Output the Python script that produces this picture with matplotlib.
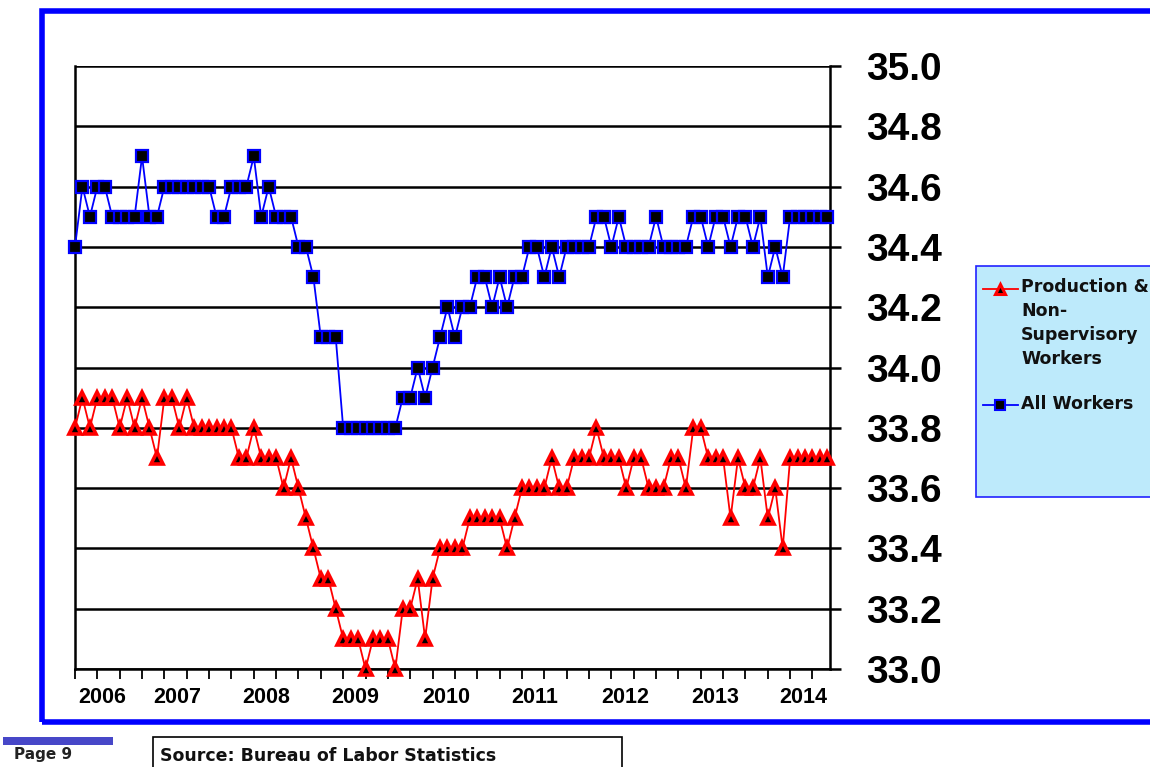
import numpy as np
import matplotlib
matplotlib.use("Agg")
import matplotlib.pyplot as plt
from matplotlib.patches import Rectangle
from matplotlib.lines import Line2D

# average weekly hours, monthly, Mar 2006 .. Aug 2014
all_workers = [34.4, 34.6, 34.5, 34.6, 34.6, 34.5, 34.5, 34.5, 34.5, 34.7,
               34.5, 34.5, 34.6, 34.6, 34.6, 34.6, 34.6, 34.6, 34.6, 34.5,
               34.5, 34.6, 34.6, 34.6, 34.7, 34.5, 34.6, 34.5, 34.5, 34.5,
               34.4, 34.4, 34.3, 34.1, 34.1, 34.1, 33.8, 33.8, 33.8, 33.8,
               33.8, 33.8, 33.8, 33.8, 33.9, 33.9, 34.0, 33.9, 34.0, 34.1,
               34.2, 34.1, 34.2, 34.2, 34.3, 34.3, 34.2, 34.3, 34.2, 34.3,
               34.3, 34.4, 34.4, 34.3, 34.4, 34.3, 34.4, 34.4, 34.4, 34.4,
               34.5, 34.5, 34.4, 34.5, 34.4, 34.4, 34.4, 34.4, 34.5, 34.4,
               34.4, 34.4, 34.4, 34.5, 34.5, 34.4, 34.5, 34.5, 34.4, 34.5,
               34.5, 34.4, 34.5, 34.3, 34.4, 34.3, 34.5, 34.5, 34.5, 34.5,
               34.5, 34.5]

production = [33.8, 33.9, 33.8, 33.9, 33.9, 33.9, 33.8, 33.9, 33.8, 33.9,
              33.8, 33.7, 33.9, 33.9, 33.8, 33.9, 33.8, 33.8, 33.8, 33.8,
              33.8, 33.8, 33.7, 33.7, 33.8, 33.7, 33.7, 33.7, 33.6, 33.7,
              33.6, 33.5, 33.4, 33.3, 33.3, 33.2, 33.1, 33.1, 33.1, 33.0,
              33.1, 33.1, 33.1, 33.0, 33.2, 33.2, 33.3, 33.1, 33.3, 33.4,
              33.4, 33.4, 33.4, 33.5, 33.5, 33.5, 33.5, 33.5, 33.4, 33.5,
              33.6, 33.6, 33.6, 33.6, 33.7, 33.6, 33.6, 33.7, 33.7, 33.7,
              33.8, 33.7, 33.7, 33.7, 33.6, 33.7, 33.7, 33.6, 33.6, 33.6,
              33.7, 33.7, 33.6, 33.8, 33.8, 33.7, 33.7, 33.7, 33.5, 33.7,
              33.6, 33.6, 33.7, 33.5, 33.6, 33.4, 33.7, 33.7, 33.7, 33.7,
              33.7, 33.7]

years = ["2006", "2007", "2008", "2009", "2010", "2011", "2012", "2013", "2014"]
# month index under each year label
year_label_pos = [3.6, 13.7, 25.6, 37.6, 49.8, 61.7, 73.9, 85.9, 97.8]

y_ticks = [33.0, 33.2, 33.4, 33.6, 33.8, 34.0, 34.2, 34.4, 34.6, 34.8, 35.0]

prod_label = "Production &\nNon-\nSupervisory\nWorkers"
all_label = "All Workers"

W, H = 1150, 767
plt.rcParams['font.family'] = ['Liberation Sans', 'DejaVu Sans']

fig = plt.figure(figsize=(W / 100, H / 100), dpi=100)
fig.patch.set_facecolor('white')


# pixel -> figure fraction
def fx(x):
    return x / W


def fy(y):
    return 1 - y / H


ax = fig.add_axes([fx(75), fy(669), fx(830) - fx(75), fy(66) - fy(669)])

x = np.arange(len(all_workers))

# the two series
ax.plot(x, production, color='red', linewidth=1.3, marker='^', markersize=9,
        markerfacecolor='black', markeredgecolor='red', markeredgewidth=2.6,
        clip_on=False, zorder=3)
ax.plot(x, all_workers, color='blue', linewidth=1.3, marker='s', markersize=8.5,
        markerfacecolor='black', markeredgecolor='blue', markeredgewidth=1.6,
        clip_on=False, zorder=4)

ax.set_xlim(0, 101.35)
ax.set_ylim(33.0, 35.0)

# y axis on the right with big bold labels
ax.yaxis.tick_right()
ax.set_yticks(y_ticks)
ax.set_yticklabels(["%.1f" % v for v in y_ticks], fontsize=28, fontweight='bold')
ax.tick_params(axis='y', which='major', direction='out', length=8, width=1.8,
               pad=18, colors='black')
ax.grid(True, axis='y', color='black', linewidth=1.8)

# quarterly tick marks, year labels as minor ticks
ax.set_xticks(np.arange(0, 101, 3))
ax.set_xticklabels([])
ax.tick_params(axis='x', which='major', direction='out', length=7, width=1.3)
ax.set_xticks(year_label_pos, minor=True)
ax.set_xticklabels(years, minor=True, fontsize=15.5, fontweight='bold')
ax.tick_params(axis='x', which='minor', length=0, pad=13)

for side in ['left', 'right', 'bottom']:
    ax.spines[side].set_linewidth(1.8)
ax.spines['top'].set_visible(False)
ax.set_axisbelow(True)

# blue outer frame
fig.patches.append(Rectangle((fx(42), fy(722)), fx(1170) - fx(42), fy(11) - fy(722),
                             transform=fig.transFigure, fill=False,
                             edgecolor='#0000ff', linewidth=4))

# legend box
fig.patches.append(Rectangle((fx(976), fy(497)), fx(1170) - fx(976), fy(266) - fy(497),
                             transform=fig.transFigure, facecolor='#bdeafb',
                             edgecolor='#2222ff', linewidth=1.2))
fig.lines.append(Line2D([fx(983), fx(1000), fx(1018)], [fy(289)] * 3, transform=fig.transFigure,
                        color='red', linewidth=1.3, marker='^', markevery=[1],
                        markersize=7, markerfacecolor='black', markeredgecolor='red',
                        markeredgewidth=2.2))
fig.lines.append(Line2D([fx(983), fx(1000), fx(1018)], [fy(405)] * 3, transform=fig.transFigure,
                        color='blue', linewidth=1.3, marker='s', markevery=[1],
                        markersize=7.5, markerfacecolor='black', markeredgecolor='blue',
                        markeredgewidth=1.5))
fig.text(fx(1021), fy(278), prod_label, fontsize=12.5, fontweight='bold',
         family='DejaVu Sans', va='top', ha='left', linespacing=1.42, color='#111111')
fig.text(fx(1021), fy(404), all_label, fontsize=12.5, fontweight='bold',
         family='DejaVu Sans', va='center', ha='left', color='#111111')

# page marker and source note below
fig.patches.append(Rectangle((fx(3), fy(745)), fx(113) - fx(3), fy(737) - fy(745),
                             transform=fig.transFigure, facecolor='#4747c8',
                             edgecolor='none'))
fig.text(fx(14), fy(755), "Page 9", fontsize=11, fontweight='bold', family='DejaVu Sans',
         va='center', ha='left', color='#222222')
fig.patches.append(Rectangle((fx(153), fy(775)), fx(622) - fx(153), fy(737) - fy(775),
                             transform=fig.transFigure, fill=False,
                             edgecolor='black', linewidth=1.2))
fig.text(fx(160), fy(756), "Source: Bureau of Labor Statistics", fontsize=12.5,
         fontweight='bold', family='DejaVu Sans', va='center', ha='left', color='#111111')

fig.savefig("out.png", dpi=100)
